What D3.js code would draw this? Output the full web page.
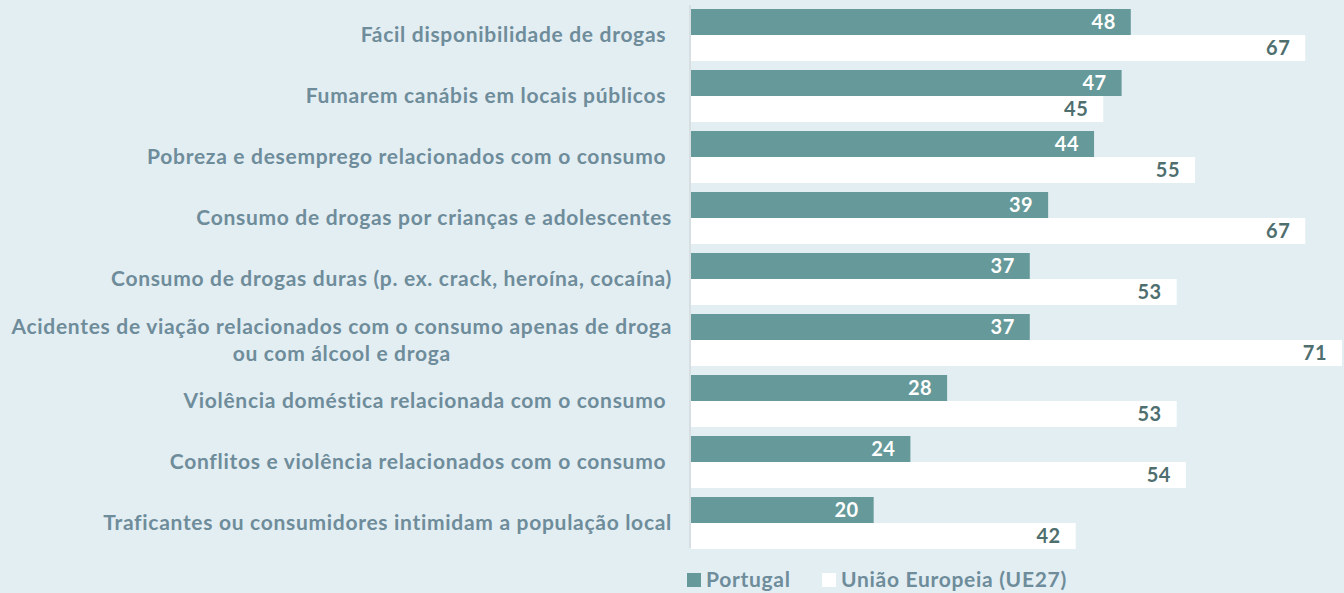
<!DOCTYPE html>
<html>
<head>
<meta charset="utf-8">
<script src="https://cdn.jsdelivr.net/npm/d3@7"></script>
<style>
  body { margin: 0; background: #e3eef3; }
  svg { display: block; font-family: Lato, "Open Sans", sans-serif; }
</style>
</head>
<body>
<div id="chart"></div>
<script>
/* Categories (lines split where the original label wraps) */
const categories = [
    ["Fácil disponibilidade de drogas "],
    ["Fumarem canábis em locais públicos "],
    ["Pobreza e desemprego relacionados com o consumo "],
    ["Consumo de drogas por crianças e adolescentes"],
    ["Consumo de drogas duras (p. ex. crack, heroína, cocaína)"],
    ["Acidentes de viação relacionados com o consumo apenas de droga", "ou com álcool e droga"],
    ["Violência doméstica relacionada com o consumo "],
    ["Conflitos e violência relacionados com o consumo "],
    ["Traficantes ou consumidores intimidam a população local"]
];
const portugal = [48, 47, 44, 39, 37, 37, 28, 24, 20];
const ue27 = [67, 45, 55, 67, 53, 71, 53, 54, 42];
const seriesNames = ["Portugal", "União Europeia (UE27)"];

const W = 1344, H = 593;
const left = 690;

const teal = "#669999";
const labelColor = "#6e8c9a";

const svg = d3.select("#chart").append("svg")
    .attr("width", W)
    .attr("height", H);

svg.append("rect").attr("width", W).attr("height", H).attr("fill", "#e3eef3");

const g = svg.append("g")
    .attr("transform", "translate(" + left + ",0)");

/* Scales */
const x = d3.scaleLinear().domain([0, 71]).range([0, 652]);
const y = d3.scaleBand()
    .domain(d3.range(categories.length))
    .range([4.5, 4.5 + 61 * categories.length])
    .paddingInner(9 / 61)
    .paddingOuter(4.5 / 61);
const sub = d3.scaleBand().domain([0, 1]).range([0, y.bandwidth()]);

/* Axis line */
g.append("line")
    .attr("x1", 0).attr("x2", 0)
    .attr("y1", 5).attr("y2", 548)
    .attr("stroke", "#d3dadd")
    .attr("stroke-width", 1.5);

const rows = g.selectAll(".row")
    .data(categories.map((c, i) => ({i: i, label: c, vals: [portugal[i], ue27[i]]})))
    .join("g")
    .attr("class", "row")
    .attr("transform", d => "translate(0," + y(d.i) + ")");

/* Bars */
rows.selectAll("rect")
    .data(d => d.vals.map((v, k) => ({k: k, v: v})))
    .join("rect")
    .attr("x", 1)
    .attr("y", d => sub(d.k))
    .attr("width", d => x(d.v) - 1)
    .attr("height", sub.bandwidth())
    .attr("fill", d => d.k === 0 ? teal : "#ffffff");

/* Value labels */
rows.selectAll("text.val")
    .data(d => d.vals.map((v, k) => ({k: k, v: v})))
    .join("text")
    .attr("class", "val")
    .attr("x", d => x(d.v) - 15)
    .attr("y", d => sub(d.k) + sub.bandwidth() / 2)
    .attr("dy", "0.36em")
    .attr("text-anchor", "end")
    .attr("font-size", 20)
    .attr("font-weight", "bold")
    .attr("letter-spacing", 0.5)
    .attr("fill", d => d.k === 0 ? "#ffffff" : "#4f6f6f")
    .text(d => d.v);

/* Category labels */
rows.each(function(d) {
    const t = d3.select(this).append("text")
        .attr("font-size", 21)
        .attr("font-weight", "bold")
        .attr("letter-spacing", 0.7)
        .attr("fill", labelColor)
        .style("white-space", "pre");
    const cy = y.bandwidth() / 2;
    const lh = 27;
    d.label.forEach((line, j) => {
        t.append("tspan")
            .attr("y", cy + (j - (d.label.length - 1) / 2) * lh)
            .attr("dy", "0.35em")
            .text(line);
    });
    if (d.label.length === 1) {
        t.attr("text-anchor", "end").selectAll("tspan").attr("x", -18);
    } else {
        const maxW = d3.max(t.selectAll("tspan").nodes(), n => n.getComputedTextLength());
        t.attr("text-anchor", "middle").selectAll("tspan").attr("x", -18 - maxW / 2);
    }
});

/* Legend */
const legend = svg.append("g").attr("transform", "translate(687,580)");
const items = [{name: seriesNames[0], color: teal, x: 0}, {name: seriesNames[1], color: "#ffffff", x: 135}];
items.forEach(it => {
    legend.append("rect")
        .attr("x", it.x).attr("y", -7)
        .attr("width", 14).attr("height", 14)
        .attr("fill", it.color);
    legend.append("text")
        .attr("x", it.x + 19).attr("y", 0)
        .attr("dy", "0.35em")
        .attr("font-size", 21)
        .attr("font-weight", "bold")
        .attr("letter-spacing", 0.7)
        .attr("fill", labelColor)
        .text(it.name);
});
</script>
</body>
</html>
